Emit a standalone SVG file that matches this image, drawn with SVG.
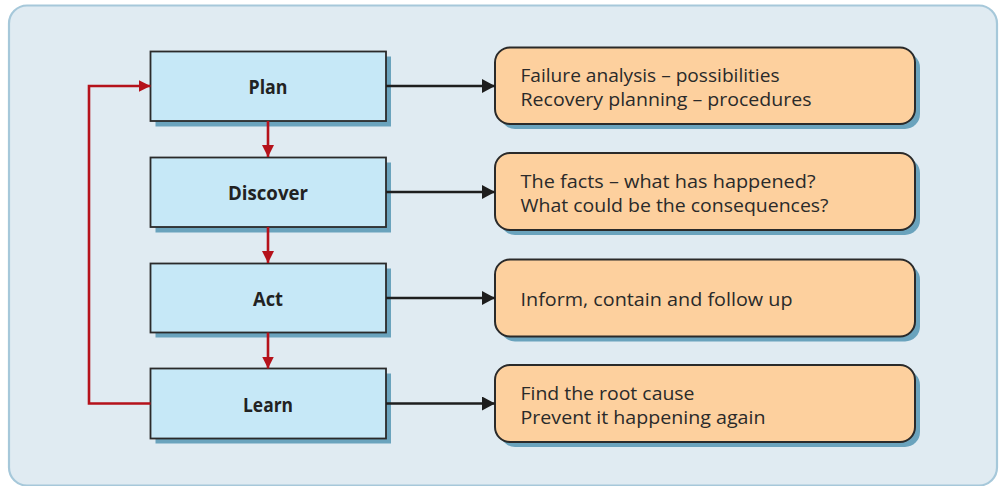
<svg xmlns="http://www.w3.org/2000/svg" width="999" height="486" viewBox="0 0 999 486">
<defs>
<style>
.frame{fill:#e0ebf2;stroke:#a6c8da;stroke-width:2.2}
.step{fill:#c6e8f7;stroke:#2a2a2a;stroke-width:1.8}
.note{fill:#fdd09e;stroke:#2a2a2a;stroke-width:2}
.shadow{fill:#6aa3bd}
.lbl{font-family:"Open Sans","Noto Sans",sans-serif;font-weight:bold;font-size:20px;fill:#222;text-anchor:middle}
.txt{font-family:"Open Sans","Noto Sans",sans-serif;font-size:19px;fill:#2a2a2a}
.red{fill:none;stroke:#b5121b;stroke-width:2.6}
.blk{fill:none;stroke:#1e1e1e;stroke-width:2.6}
</style>
<marker id="ar" markerWidth="12" markerHeight="12" viewBox="0 0 12 12" refX="12" refY="6" orient="auto" markerUnits="userSpaceOnUse">
<path d="M0,0 L12,6 L0,12 Z" fill="#b5121b"/>
</marker>
<marker id="ab" markerWidth="13" markerHeight="14" viewBox="0 0 13 14" refX="13" refY="7" orient="auto" markerUnits="userSpaceOnUse">
<path d="M0,0 L13,7 L0,14 Z" fill="#1e1e1e"/>
</marker>
</defs>
<rect class="frame" x="9" y="5.5" width="988" height="480" rx="18"/>

<g id="plan">
<rect class="shadow" x="155.5" y="56.5" width="235.5" height="70"/>
<rect class="step" x="150.5" y="51.5" width="235.5" height="69.5"/>
<text class="lbl" x="268" y="94" textLength="39" lengthAdjust="spacingAndGlyphs">Plan</text>
</g>
<g id="discover">
<rect class="shadow" x="155.5" y="162.5" width="235.5" height="70"/>
<rect class="step" x="150.5" y="157.5" width="235.5" height="69.5"/>
<text class="lbl" x="268" y="200" textLength="80" lengthAdjust="spacingAndGlyphs">Discover</text>
</g>
<g id="act">
<rect class="shadow" x="155.5" y="268.5" width="235.5" height="69"/>
<rect class="step" x="150.5" y="263.5" width="235.5" height="69"/>
<text class="lbl" x="268" y="306" textLength="30" lengthAdjust="spacingAndGlyphs">Act</text>
</g>
<g id="learn">
<rect class="shadow" x="155.5" y="373.5" width="235.5" height="70"/>
<rect class="step" x="150.5" y="368.5" width="235.5" height="70"/>
<text class="lbl" x="268" y="412" textLength="50" lengthAdjust="spacingAndGlyphs">Learn</text>
</g>

<g id="note-plan">
<rect class="shadow" x="500" y="52.5" width="420" height="76.5" rx="15"/>
<rect class="note" x="495" y="47.5" width="420" height="76.5" rx="15"/>
<text class="txt" x="520.5" y="82" textLength="259" lengthAdjust="spacingAndGlyphs">Failure analysis – possibilities</text>
<text class="txt" x="520.5" y="105.5" textLength="291" lengthAdjust="spacingAndGlyphs">Recovery planning – procedures</text>
</g>
<g id="note-discover">
<rect class="shadow" x="500" y="158" width="420" height="77" rx="15"/>
<rect class="note" x="495" y="153" width="420" height="77" rx="15"/>
<text class="txt" x="520.5" y="188" textLength="295" lengthAdjust="spacingAndGlyphs">The facts – what has happened?</text>
<text class="txt" x="520.5" y="211.5" textLength="308" lengthAdjust="spacingAndGlyphs">What could be the consequences?</text>
</g>
<g id="note-act">
<rect class="shadow" x="500" y="264.5" width="420" height="77" rx="15"/>
<rect class="note" x="495" y="259.5" width="420" height="77" rx="15"/>
<text class="txt" x="520.5" y="306" textLength="272" lengthAdjust="spacingAndGlyphs">Inform, contain and follow up</text>
</g>
<g id="note-learn">
<rect class="shadow" x="500" y="370" width="420" height="77" rx="15"/>
<rect class="note" x="495" y="365" width="420" height="77" rx="15"/>
<text class="txt" x="520.5" y="400" textLength="174" lengthAdjust="spacingAndGlyphs">Find the root cause</text>
<text class="txt" x="520.5" y="423.5" textLength="245" lengthAdjust="spacingAndGlyphs">Prevent it happening again</text>
</g>

<g id="connectors">
<path class="red" d="M268,121 V157" marker-end="url(#ar)"/>
<path class="red" d="M268,227 V263" marker-end="url(#ar)"/>
<path class="red" d="M268,332.5 V368.5" marker-end="url(#ar)"/>
<path class="red" d="M150.5,403.5 H89 V86 H150.5" marker-end="url(#ar)"/>
<path class="blk" d="M386,86 H495" marker-end="url(#ab)"/>
<path class="blk" d="M386,192 H495" marker-end="url(#ab)"/>
<path class="blk" d="M386,298 H495" marker-end="url(#ab)"/>
<path class="blk" d="M386,403.5 H495" marker-end="url(#ab)"/>
</g>
</svg>
